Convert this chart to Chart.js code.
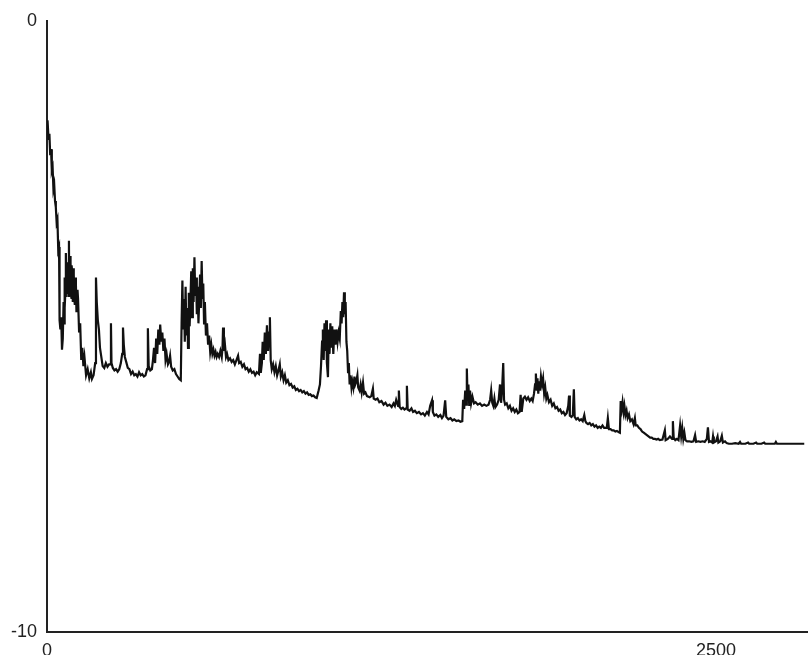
<!DOCTYPE html>
<html>
<head>
<meta charset="utf-8">
<script src="https://cdn.jsdelivr.net/npm/chart.js@4/dist/chart.umd.min.js"></script>
<style>
  html, body { margin: 0; padding: 0; background: #fff; }
  #wrap { width: 808px; height: 655px; }
</style>
</head>
<body>
<div id="wrap"><canvas id="c" width="808" height="655"></canvas></div>
<script>
// Sample positions along the horizontal axis
const sampleX = [
  2,6,9,12,15,18,21,24,27,30,33,36,39,42,45,47,50,53,56,59,62,64,65,67,68,70,71,73,74,76,78,80,82,83,85,87,88,90,91,93,94,96,97,99,100,102,104,106,108,110,112,114,116,120,124,128,132,136,140,146,152,158,164,168,174,180,
  183,186,190,194,198,203,208,214,220,226,232,237,239,241,246,252,258,264,270,276,281,284,287,291,296,302,308,314,320,326,332,338,344,350,356,362,368,374,377,380,
  386,392,396,400,404,408,412,416,420,423,427,431,435,439,443,447,452,456,460,464,470,476,482,488,494,500,503,506,509,512,515,518,521,524,527,530,533,536,539,542,
  545,548,551,554,557,560,563,566,569,572,575,578,581,584,587,590,594,598,602,606,610,614,618,622,626,630,634,638,643,648,653,656,658,661,665,669,673,678,684,690,
  696,702,708,714,718,724,730,736,742,748,754,760,766,772,778,784,792,796,799,803,806,810,814,818,822,826,830,833,836,840,845,850,855,860,865,870,874,879,884,889,
  894,900,906,912,918,924,930,936,942,948,954,960,966,972,978,984,990,996,1002,1008,1015,1020,1024,1028,1031,1034,1037,1040,1043,1046,1050,1053,1056,1059,1062,1066,1070,1074,1078,1082,
  1086,1090,1094,1098,1101,1104,1107,1110,1113,1116,1119,1122,1125,1128,1131,1134,1138,1141,1145,1149,1152,1156,1160,1163,1168,1172,1176,1181,1185,1190,1196,1206,1212,1218,1221,1228,1235,1242,1250,1258,
  1265,1272,1280,1288,1295,1300,1305,1312,1315,1318,1324,1330,1336,1342,1345,1348,1355,1362,1368,1375,1382,1390,1398,1405,1412,1420,1426,1432,1439,1442,1448,1455,1462,1470,1476,1482,1488,1492,1500,1508,
  1515,1522,1530,1538,1545,1552,1555,1559,1563,1566,1569,1572,1575,1578,1581,1585,1590,1596,1602,1610,1618,1626,1634,1642,1650,1656,1660,1664,1668,1672,1676,1682,1688,1693,1697,1701,1705,1708,1712,1718,
  1724,1730,1736,1742,1748,1754,1760,1766,1770,1774,1780,1786,1792,1798,1804,1810,1815,1820,1824,1827,1830,1833,1836,1839,1842,1846,1850,1854,1858,1862,1866,1870,1876,1882,1888,1894,1900,1906,1912,1918,
  1924,1930,1936,1942,1948,1951,1954,1960,1965,1969,1972,1978,1984,1990,1996,2002,2008,2012,2016,2022,2028,2034,2040,2046,2052,2058,2064,2070,2076,2082,2092,2096,2100,2106,2112,2118,2124,2130,2136,2141,
  2144,2148,2151,2155,2158,2162,2166,2170,2175,2180,2186,2192,2197,2200,2206,2212,2218,2224,2230,2236,2242,2248,2254,2260,2266,2272,2278,2284,2290,2300,2309,2312,2320,2328,2336,2339,2342,2348,2354,2360,
  2366,2370,2374,2378,2382,2386,2392,2400,2408,2416,2422,2426,2434,2442,2450,2458,2466,2470,2474,2480,2486,2489,2492,2500,2506,2509,2516,2522,2526,2534,2540,2548,2560,2572,2585,2590,2594,2610,2620,2624,
  2640,2650,2654,2670,2680,2684,2700,2720,2724,2728,2750,2780,2800,2830
];

// Signal level at each sample
const sampleY = [
  -1.63,-1.95,-1.85,-2.20,-2.10,-2.45,-2.40,-2.75,-2.68,-2.95,-3.05,-3.30,-3.25,-3.75,-3.70,-4.90,-5.05,-4.85,-5.38,-5.20,-4.60,-4.95,-4.20,-4.70,-4.50,-4.05,-3.80,-4.45,-4.35,-4.00,-3.95,-4.50,-3.60,-4.30,-4.40,-3.85,-3.95,-4.50,-4.55,-4.00,-4.10,-4.60,-4.60,-4.05,-4.15,-4.55,-4.65,-4.20,-4.30,-4.75,-4.70,-4.40,-4.55,-5.10,-4.95,-5.55,-5.35,-5.65,-5.50,-5.80,-5.70,-5.85,-5.75,-5.86,-5.80,-5.60,
  -4.20,-4.60,-4.90,-5.05,-5.35,-5.50,-5.65,-5.68,-5.60,-5.66,-5.62,-5.62,-4.95,-5.60,-5.68,-5.72,-5.70,-5.74,-5.70,-5.60,-5.45,-5.02,-5.30,-5.50,-5.58,-5.68,-5.70,-5.78,-5.74,-5.80,-5.78,-5.82,-5.75,-5.80,-5.78,-5.82,-5.80,-5.70,-5.03,-5.65,
  -5.72,-5.70,-5.55,-5.35,-5.60,-5.20,-5.45,-5.05,-5.30,-4.97,-5.25,-5.10,-5.40,-5.20,-5.55,-5.45,-5.62,-5.58,-5.48,-5.66,-5.72,-5.70,-5.78,-5.82,-5.86,-5.88,-4.95,-4.25,-5.05,-4.55,-5.25,-4.35,-5.15,-4.70,-5.35,-4.45,-5.00,-4.60,-4.10,-4.85,
  -4.05,-4.60,-3.87,-4.50,-4.20,-4.80,-4.35,-4.95,-4.55,-4.15,-4.70,-3.93,-4.55,-4.30,-4.95,-4.60,-5.15,-4.95,-5.30,-5.15,-5.42,-5.30,-5.45,-5.38,-5.48,-5.42,-5.50,-5.45,-5.50,-5.40,-5.50,-5.35,-5.02,-5.40,-5.30,-5.50,-5.45,-5.55,-5.52,-5.58,
  -5.55,-5.62,-5.55,-5.48,-5.60,-5.58,-5.66,-5.62,-5.70,-5.68,-5.74,-5.70,-5.76,-5.74,-5.80,-5.75,-5.78,-5.45,-5.76,-5.60,-5.25,-5.55,-5.10,-5.45,-4.98,-5.40,-5.10,-4.85,-5.55,-5.70,-5.62,-5.75,-5.65,-5.80,-5.72,-5.62,-5.82,-5.75,-5.88,-5.80,
  -5.92,-5.88,-5.96,-5.94,-6.00,-5.98,-6.04,-6.02,-6.06,-6.04,-6.08,-6.06,-6.10,-6.08,-6.12,-6.11,-6.14,-6.13,-6.16,-6.17,-6.05,-5.95,-5.65,-5.25,-5.05,-5.55,-4.95,-5.40,-4.90,-5.60,-5.83,-5.05,-5.45,-4.95,-5.35,-5.00,-5.45,-5.05,-5.30,-5.05,
  -5.25,-5.10,-5.20,-4.75,-4.95,-4.60,-4.85,-4.44,-4.80,-4.60,-5.25,-5.40,-5.75,-5.60,-5.95,-5.80,-6.00,-5.90,-6.00,-5.82,-5.95,-5.90,-5.80,-6.00,-6.05,-5.95,-6.08,-5.92,-6.10,-6.08,-6.14,-6.16,-6.14,-6.02,-6.18,-6.20,-6.18,-6.24,-6.22,-6.28,
  -6.25,-6.30,-6.28,-6.32,-6.26,-6.30,-6.20,-6.30,-6.05,-6.32,-6.35,-6.33,-6.36,-6.34,-5.97,-6.36,-6.38,-6.34,-6.40,-6.38,-6.42,-6.40,-6.44,-6.42,-6.46,-6.40,-6.44,-6.30,-6.21,-6.40,-6.46,-6.44,-6.48,-6.45,-6.50,-6.46,-6.21,-6.48,-6.52,-6.50,
  -6.54,-6.52,-6.55,-6.54,-6.56,-6.55,-6.20,-6.35,-6.05,-6.28,-5.69,-6.20,-5.95,-6.30,-6.05,-6.26,-6.15,-6.26,-6.24,-6.28,-6.26,-6.30,-6.28,-6.30,-6.28,-6.20,-6.05,-6.25,-6.30,-6.18,-6.32,-6.28,-6.20,-5.95,-6.25,-6.00,-5.60,-6.20,-6.28,-6.26,
  -6.34,-6.30,-6.38,-6.34,-6.40,-6.36,-6.42,-6.40,-6.12,-6.40,-6.18,-6.15,-6.20,-6.16,-6.22,-6.18,-6.22,-6.10,-5.95,-5.77,-6.05,-5.85,-6.10,-5.90,-6.05,-5.82,-5.95,-5.85,-6.10,-6.00,-6.18,-6.12,-6.24,-6.20,-6.30,-6.26,-6.34,-6.32,-6.38,-6.36,
  -6.42,-6.40,-6.45,-6.42,-6.30,-6.13,-6.46,-6.48,-6.45,-6.03,-6.48,-6.52,-6.50,-6.54,-6.52,-6.55,-6.45,-6.55,-6.58,-6.60,-6.58,-6.62,-6.60,-6.64,-6.62,-6.66,-6.64,-6.66,-6.62,-6.66,-6.66,-6.50,-6.68,-6.68,-6.70,-6.70,-6.72,-6.71,-6.73,-6.74,
  -6.22,-6.35,-6.24,-6.40,-6.30,-6.45,-6.38,-6.50,-6.44,-6.55,-6.52,-6.60,-6.50,-6.62,-6.62,-6.66,-6.68,-6.72,-6.74,-6.76,-6.78,-6.80,-6.82,-6.82,-6.84,-6.84,-6.85,-6.84,-6.86,-6.85,-6.70,-6.86,-6.84,-6.80,-6.84,-6.55,-6.82,-6.86,-6.84,-6.86,
  -6.62,-6.80,-6.66,-6.84,-6.74,-6.86,-6.88,-6.88,-6.89,-6.88,-6.78,-6.89,-6.88,-6.89,-6.88,-6.89,-6.84,-6.65,-6.89,-6.88,-6.90,-6.80,-6.90,-6.88,-6.80,-6.90,-6.88,-6.79,-6.90,-6.88,-6.91,-6.92,-6.92,-6.91,-6.92,-6.89,-6.92,-6.92,-6.90,-6.92,
  -6.92,-6.90,-6.92,-6.92,-6.90,-6.92,-6.92,-6.92,-6.89,-6.92,-6.92,-6.92,-6.92,-6.92
];

// Labelled tick values
const xTickValues = [0, 2500];
const yTickValues = [-10, 0];

const xMin = 0, xMax = 2844;
const yMin = -10, yMax = 0;

const points = sampleX.map((x, i) => ({ x: x, y: sampleY[i] }));

const tickFont = { family: '"Liberation Sans", Arial, sans-serif', size: 18 };

new Chart(document.getElementById('c'), {
  type: 'line',
  data: {
    datasets: [{
      data: points,
      borderColor: '#111',
      borderWidth: 2.2,
      pointRadius: 0,
      tension: 0,
      fill: false
    }]
  },
  options: {
    responsive: false,
    animation: false,
    events: [],
    layout: { padding: { top: 20, right: 0, left: 0, bottom: 0 } },
    plugins: { legend: { display: false }, tooltip: { enabled: false } },
    scales: {
      x: {
        type: 'linear',
        min: xMin,
        max: xMax,
        grid: { display: false, drawTicks: false },
        border: { display: true, color: '#222', width: 2 },
        afterBuildTicks: (s) => { s.ticks = xTickValues.map(v => ({ value: v })); },
        afterFit: (s) => { s.height = 23; },
        ticks: {
          padding: 8,
          color: '#222',
          font: tickFont,
          maxRotation: 0,
          autoSkip: false,
          callback: (v) => String(v)
        }
      },
      y: {
        type: 'linear',
        min: yMin,
        max: yMax,
        grid: { display: false, drawTicks: false },
        border: { display: true, color: '#222', width: 2 },
        afterBuildTicks: (s) => { s.ticks = yTickValues.map(v => ({ value: v })); },
        afterFit: (s) => { s.width = 47; },
        ticks: {
          padding: 10,
          color: '#222',
          font: tickFont,
          autoSkip: false,
          callback: (v) => String(v)
        }
      }
    }
  }
});
</script>
</body>
</html>
